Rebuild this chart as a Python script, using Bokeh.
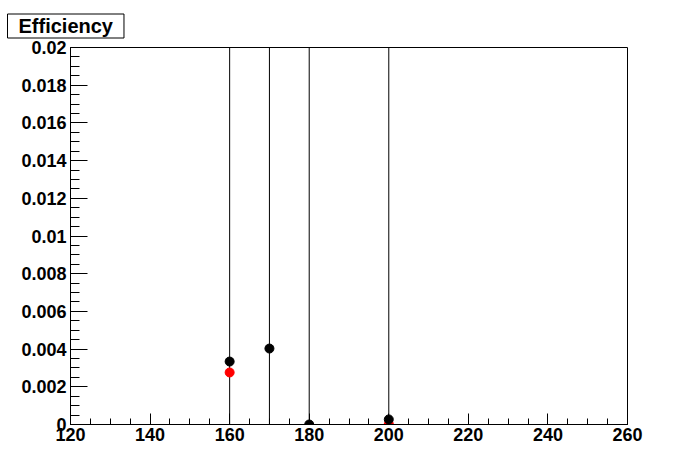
from bokeh.plotting import figure
from bokeh.models import Range1d, FixedTicker
from bokeh.embed import file_html
from bokeh.resources import INLINE

# ---- data ----
mass = [160, 170, 180, 200]
eff_black = [0.00334, 0.00403, 0.0, 0.00027]
err_black = [0.03, 0.03, 0.03, 0.03]
mass_red = [160, 200]
eff_red = [0.00276, 0.00002]

x_ticks = [120, 140, 160, 180, 200, 220, 240, 260]
x_minor = list(range(120, 261, 5))
y_ticks = [0, 0.002, 0.004, 0.006, 0.008, 0.01, 0.012, 0.014, 0.016, 0.018, 0.02]
y_tick_labels = ["0", "0.002", "0.004", "0.006", "0.008", "0.01", "0.012",
                 "0.014", "0.016", "0.018", "0.02"]
y_minor = [round(i * 0.0005, 6) for i in range(41)]

FONT = "Liberation Sans"

p = figure(width=680, height=456, output_backend="svg", toolbar_location=None,
           x_range=Range1d(120, 260), y_range=Range1d(0, 0.02),
           min_border_left=70, min_border_right=53, min_border_top=47,
           min_border_bottom=32, title="Efficiency")
p.xgrid.visible = False
p.ygrid.visible = False
p.outline_line_color = "black"
p.outline_line_width = 1
p.background_fill_color = "white"
p.border_fill_color = "white"

t = p.title
t.align = "left"
t.offset = -63
t.standoff = 19
t.text_font = FONT
t.text_font_style = "bold"
t.text_font_size = "20px"
t.text_color = "black"
t.border_line_color = "black"
t.border_line_width = 1
t.background_fill_color = "white"
t.padding = (11, 1)

p.xaxis.ticker = FixedTicker(ticks=x_ticks, minor_ticks=x_minor)
p.yaxis.ticker = FixedTicker(ticks=y_ticks, minor_ticks=y_minor)
p.xaxis.major_label_overrides = {v: str(v) for v in x_ticks}
p.yaxis.major_label_overrides = {v: l for v, l in zip(y_ticks, y_tick_labels)}

for ax in (p.xaxis, p.yaxis):
    ax.axis_line_color = "black"
    ax.major_tick_line_color = "black"
    ax.minor_tick_line_color = "black"
    ax.major_tick_out = 0
    ax.minor_tick_out = 0
    ax.major_label_text_font = FONT
    ax.major_label_text_font_style = "bold"
    ax.major_label_text_font_size = "18px"
    ax.major_label_text_color = "black"

p.xaxis.major_tick_in = 11
p.xaxis.minor_tick_in = 6
p.xaxis.major_label_standoff = 3
p.yaxis.major_tick_in = 17
p.yaxis.minor_tick_in = 9
p.yaxis.major_label_standoff = 4

# error bars
lo = [y - e for y, e in zip(eff_black, err_black)]
hi = [y + e for y, e in zip(eff_black, err_black)]
p.segment(x0=mass, y0=lo, x1=mass, y1=hi, line_color="black", line_width=1)

p.scatter(mass_red, eff_red, size=9, marker="circle", fill_color="#ff0000",
          line_color="#ff0000")
p.scatter(mass, eff_black, size=9, marker="circle", fill_color="black",
          line_color="black")

open("out.html", "w").write(file_html(p, INLINE))
